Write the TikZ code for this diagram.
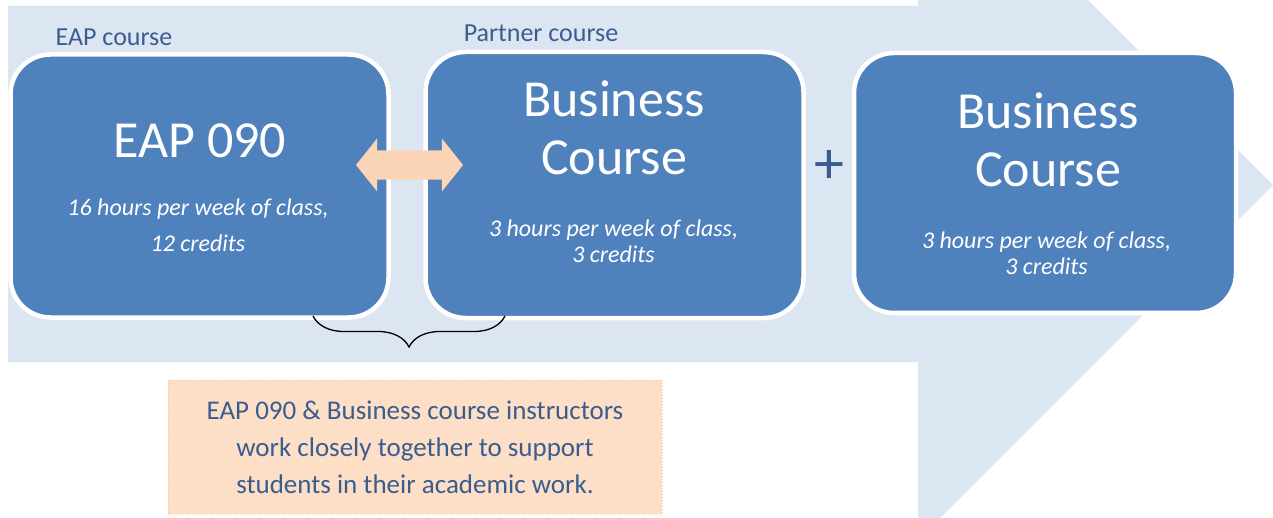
\documentclass[tikz,border=0pt]{standalone}
\usepackage{fontspec}
\setmainfont{Carlito}
\usetikzlibrary{shapes.arrows,decorations.pathreplacing}
\definecolor{flowblue}{HTML}{DCE6F2}
\definecolor{boxblue}{HTML}{4F81BD}
\definecolor{labelblue}{HTML}{3A5D8F}
\definecolor{peach}{HTML}{FBD5B5}
\definecolor{notepeach}{HTML}{FCDFC6}
\definecolor{noteedge}{HTML}{F7C59E}
\begin{document}
\begin{tikzpicture}[x=1pt,y=-1pt,
  coursebox/.style={draw=white,line width=4.5pt,fill=boxblue,rounded corners=40pt,inner sep=0pt},
  bigtitle/.style={text=white,font=\fontsize{52}{57}\selectfont,anchor=base,inner sep=0pt},
  hours/.style={text=white,font=\fontsize{24}{27}\selectfont\itshape,anchor=base,inner sep=0pt},
  tag/.style={text=labelblue,font=\fontsize{26}{30}\selectfont,anchor=base,inner sep=0pt}]
  \useasboundingbox (0,0) rectangle (1273,518);
  % big arrow in the back
  \begin{scope}
    \clip (0,0) rectangle (1273,518);
    \fill[flowblue] (8,6) -- (918,6) -- (918,-170) -- (1273,185) -- (918,540) -- (918,362) -- (8,362) -- cycle;
  \end{scope}
  % the three courses
  \node[coursebox,minimum width=378pt,minimum height=263pt] (eap)   at (199.5,186) {};
  \node[coursebox,minimum width=378pt,minimum height=266pt] (bus1)  at (614.5,185) {};
  \node[coursebox,minimum width=382pt,minimum height=260pt] (bus2)  at (1045,183) {};
  \node[tag] (eaptag)  at (114,46) {EAP course};
  \node[tag] (bustag)  at (541,42) {Partner course};
  \node[bigtitle] (eaptitle)  at (200,158) {EAP 090};
  \node[hours]    (eaph1)     at (198,216) {16 hours per week of class,};
  \node[hours]    (eaph2)     at (198,252) {12 credits};
  \node[bigtitle] (bus1a)     at (614,117) {Business};
  \node[bigtitle] (bus1b)     at (614,175) {Course};
  \node[hours]    (bus1h1)    at (613.5,237) {3 hours per week of class,};
  \node[hours]    (bus1h2)    at (613.5,263) {3 credits};
  \node[bigtitle] (bus2a)     at (1048,129) {Business};
  \node[bigtitle] (bus2b)     at (1048,187) {Course};
  \node[hours]    (bus2h1)    at (1046.5,249) {3 hours per week of class,};
  \node[hours]    (bus2h2)    at (1046.5,275) {3 credits};
  \node[text=labelblue,font=\fontsize{60}{60}\selectfont,inner sep=0pt] (plus) at (829.5,167) {+};
  % link between EAP and partner course
  \node[double arrow,fill=peach,inner xsep=0pt,inner ysep=14.5pt,minimum height=107pt,
        double arrow head extend=12pt,double arrow tip angle=103] (link) at (409.5,165) {};
  \coordinate (brace-l) at (313,316);
  \coordinate (brace-r) at (505,316);
  \draw[line width=1.3pt,decorate,decoration={brace,amplitude=31pt,mirror}] (brace-l) -- (brace-r);
  \node[fill=notepeach,draw=noteedge,dotted,line width=1pt,minimum width=494pt,minimum height=134pt,
        align=center,text=labelblue,font=\fontsize{27}{37}\selectfont] (note) at (415,447)
        {EAP 090 \& Business course instructors\\work closely together to support\\students in their academic work.};
\end{tikzpicture}
\end{document}
